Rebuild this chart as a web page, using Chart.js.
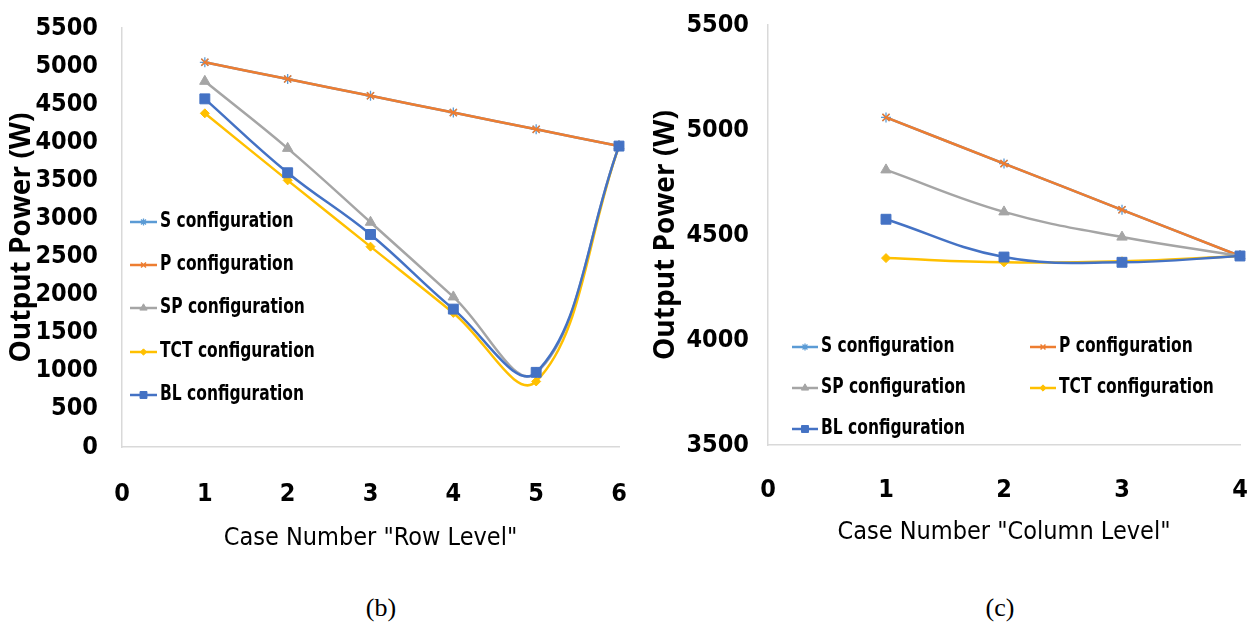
<!DOCTYPE html>
<html>
<head>
<meta charset="utf-8">
<script src="https://cdn.jsdelivr.net/npm/chart.js@4.4.1/dist/chart.umd.min.js"></script>
<style>
  html, body { margin: 0; padding: 0; background: #fff; width: 1258px; height: 630px; overflow: hidden; }
  .panel { position: absolute; top: 0; }
  .cap { position: absolute; top: 608px; transform: translate(-50%, -50%);
         font-family: 'Liberation Serif', 'Times New Roman', serif; font-size: 26px; color: #000; }
</style>
</head>
<body>
<div class="panel" style="left:0"><canvas id="rowChart" width="640" height="570"></canvas></div>
<div class="panel" style="left:640px"><canvas id="colChart" width="618" height="570"></canvas></div>
<div class="cap" style="left:381px">(b)</div>
<div class="cap" style="left:1000px">(c)</div>

<script>
// ---- (b) output power vs. shaded row level ----
const rowCases = [1, 2, 3, 4, 5, 6];
const rowS   = [5050, 4830, 4610, 4390, 4170, 3950];
const rowP   = [5050, 4830, 4610, 4390, 4170, 3950];
const rowSP  = [4800, 3920, 2950, 1970, 970, 3950];
const rowTCT = [4380, 3500, 2630, 1760, 860, 3950];
const rowBL  = [4570, 3600, 2790, 1810, 980, 3950];
const rowYTicks = [0, 500, 1000, 1500, 2000, 2500, 3000, 3500, 4000, 4500, 5000, 5500];

// ---- (c) output power vs. shaded column level ----
const colCases = [1, 2, 3, 4];
const colS   = [5060, 4840, 4620, 4400];
const colP   = [5060, 4840, 4620, 4400];
const colSP  = [4810, 4610, 4490, 4400];
const colTCT = [4390, 4370, 4375, 4400];
const colBL  = [4575, 4395, 4370, 4400];
const colYTicks = [3500, 4000, 4500, 5000, 5500];

const seriesNames = ['S configuration', 'P configuration', 'SP configuration', 'TCT configuration', 'BL configuration'];

const NARROW = "'Liberation Sans Narrow', 'DejaVu Sans Condensed', 'Open Sans', sans-serif";
const TITLE_FONT = "'Open Sans', 'Noto Sans', sans-serif";

// line + marker look of each configuration
const styles = [
  { color: '#5B9BD5', pointStyle: 'star',     radius: 5,   bw: 1.3, fill: '#5B9BD5', order: 5 },
  { color: '#ED7D31', pointStyle: 'crossRot', radius: 5,   bw: 1.5, fill: '#ED7D31', order: 4 },
  { color: '#A5A5A5', pointStyle: 'triangle', radius: 6,   bw: 1,   fill: '#A5A5A5', order: 3 },
  { color: '#FFC000', pointStyle: 'rectRot',  radius: 4.5, bw: 1,   fill: '#FFC000', order: 2 },
  { color: '#4472C4', pointStyle: 'rect',     radius: 7,   bw: 1,   fill: '#4472C4', order: 1 }
];

// legend drawn inside the plot area, Excel style, with slightly condensed text
const insetLegend = {
  id: 'insetLegend',
  afterDatasetsDraw(chart, args, o) {
    const ctx = chart.ctx;
    chart.data.datasets.forEach((ds, i) => {
      const slot = o.slots[i];
      const x0 = slot[0], y = slot[1], x1 = x0 + o.lineLen;
      ctx.save();
      ctx.strokeStyle = ds.borderColor;
      ctx.lineWidth = ds.borderWidth;
      ctx.beginPath(); ctx.moveTo(x0, y); ctx.lineTo(x1, y); ctx.stroke();
      ctx.fillStyle = ds.pointBackgroundColor;
      ctx.strokeStyle = ds.pointBorderColor;
      ctx.lineWidth = ds.pointBorderWidth;
      Chart.helpers.drawPoint(ctx, {
        pointStyle: ds.pointStyle, rotation: 0,
        radius: ds.pointRadius * 0.7, borderWidth: ds.pointBorderWidth
      }, (x0 + x1) / 2, y);
      ctx.fillStyle = '#000';
      ctx.font = o.font;
      ctx.textAlign = 'left';
      ctx.textBaseline = 'middle';
      ctx.translate(x1 + o.gap, y);
      ctx.scale(o.squeeze, 1);
      ctx.fillText(ds.label, 0, 0);
      ctx.restore();
    });
  }
};

function buildDatasets(cases, seriesList) {
  return seriesList.map((vals, i) => {
    const s = styles[i];
    return {
      label: seriesNames[i],
      data: cases.map((c, k) => ({ x: c, y: vals[k] })),
      borderColor: s.color,
      backgroundColor: s.color,
      borderWidth: 2.5,
      tension: 0.4,
      pointStyle: s.pointStyle,
      pointRadius: s.radius,
      pointBorderWidth: s.bw,
      pointBackgroundColor: s.fill,
      pointBorderColor: s.color,
      order: s.order,
      clip: false
    };
  });
}

function makeChart(id, cases, seriesList, cfg) {
  const tickFont = { family: NARROW, size: 25, weight: 'bold' };
  return new Chart(document.getElementById(id), {
    type: 'line',
    data: { datasets: buildDatasets(cases, seriesList) },
    plugins: [insetLegend],
    options: {
      responsive: false,
      animation: false,
      events: [],
      layout: { padding: { left: 0, top: cfg.top, right: cfg.right, bottom: 0 } },
      plugins: {
        legend: { display: false },
        tooltip: { enabled: false },
        insetLegend: {
          slots: cfg.legendSlots, lineLen: cfg.legendLine, gap: 3, squeeze: 0.82,
          font: "bold 21px " + NARROW
        }
      },
      scales: {
        x: {
          type: 'linear', min: 0, max: cases[cases.length - 1],
          grid: { display: false, drawTicks: false },
          border: { display: true, color: '#D9D9D9', width: 1.5 },
          ticks: { stepSize: 1, color: '#000', font: tickFont, padding: cfg.xTickPad,
                   maxRotation: 0, autoSkip: false, callback: v => String(v) },
          title: { display: true, text: cfg.xTitle, color: '#000',
                   font: { family: NARROW, size: 25 }, padding: { top: 0, bottom: cfg.xTitlePad } },
          afterFit(s) { s.height = cfg.xAxisH; s.paddingLeft = 0; s.paddingRight = 0; }
        },
        y: {
          type: 'linear', min: cfg.yTicks[0], max: cfg.yTicks[cfg.yTicks.length - 1],
          afterBuildTicks(s) { s.ticks = cfg.yTicks.map(v => ({ value: v })); },
          grid: { display: false, drawTicks: false },
          border: { display: true, color: '#D9D9D9', width: 1.5 },
          ticks: { color: '#000', font: tickFont, padding: cfg.yTickPad, autoSkip: false,
                   callback: v => String(v) },
          title: { display: true, text: 'Output Power (W)', color: '#000',
                   font: { family: TITLE_FONT, size: 28, weight: 'bold' }, padding: { top: cfg.yTitlePad, bottom: 0 } },
          afterFit(s) { s.width = cfg.yAxisW; s.paddingTop = 0; s.paddingBottom = 0; }
        }
      }
    }
  });
}

makeChart('rowChart', rowCases, [rowS, rowP, rowSP, rowTCT, rowBL], {
  yTicks: rowYTicks,
  top: 28, right: 21, yAxisW: 122, xAxisH: 123,
  xTickPad: 32, yTickPad: 24, xTitlePad: 17, yTitlePad: 5,
  xTitle: 'Case Number "Row Level"',
  legendLine: 27,
  legendSlots: [[130, 222], [130, 265], [130, 308], [130, 352], [130, 395]]
});

makeChart('colChart', colCases, [colS, colP, colSP, colTCT, colBL], {
  yTicks: colYTicks,
  top: 25, right: 18, yAxisW: 128, xAxisH: 125,
  xTickPad: 30, yTickPad: 19, xTitlePad: 23, yTitlePad: 9,
  xTitle: 'Case Number "Column Level"',
  legendLine: 26,
  legendSlots: [[152, 347], [390, 347], [152, 388], [390, 388], [152, 429]]
});
</script>
</body>
</html>
